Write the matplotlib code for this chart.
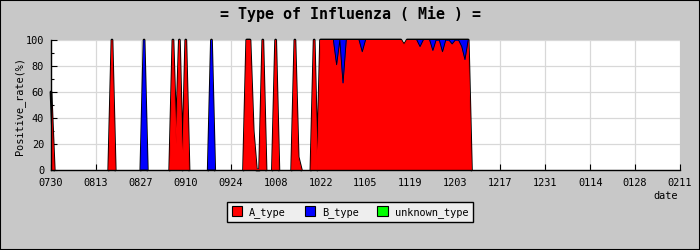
import matplotlib
matplotlib.use('Agg')
import matplotlib.pyplot as plt
import numpy as np
import pandas as pd
from matplotlib.patches import Patch, Rectangle

# ---- data (daily positive rate, %) ----
start_date = '2009-07-30'
end_date = '2010-02-11'

a_type = [
    60, 0, 0, 0, 0, 0, 0, 0, 0, 0, 0, 0, 0, 0,          # 0730-0812
    0, 0, 0, 0, 0, 100, 0, 0, 0, 0, 0, 0, 0, 0,         # 0813-0826
    0, 0, 0, 0, 0, 0, 0, 0, 0, 0, 100, 20, 100, 0,      # 0827-0909
    100, 0, 0, 0, 0, 0, 0, 0, 0, 0, 0, 0, 0, 0,         # 0910-0923
    0, 0, 0, 0, 0, 100, 100, 30, 0, 0, 100, 0, 0, 0,    # 0924-1007
    100, 0, 0, 0, 0, 0, 100, 10, 0, 0, 0, 0, 100, 0,    # 1008-1021
    100, 100, 100, 100, 100, 81, 100, 67, 100, 100, 100, 100, 100, 91,   # 1022-1104
    100, 100, 100, 100, 100, 100, 100, 100, 100, 100, 100, 100, 96, 100, # 1105-1118
    100, 100, 100, 95, 100, 100, 100, 92, 100, 100, 91, 100, 100, 97,    # 1119-1202
    100, 100, 95, 85, 100, 0,                                            # 1203-1208
]
b_type = [
    0, 0, 0, 0, 0, 0, 0, 0, 0, 0, 0, 0, 0, 0,
    0, 0, 0, 0, 0, 0, 0, 0, 0, 0, 0, 0, 0, 0,
    0, 100, 0, 0, 0, 0, 0, 0, 0, 0, 0, 0, 0, 0,
    0, 0, 0, 0, 0, 0, 0, 0, 100, 0, 0, 0, 0, 0,
    0, 0, 0, 0, 0, 0, 0, 0, 0, 0, 0, 0, 0, 0,
    0, 0, 0, 0, 0, 0, 0, 0, 0, 0, 0, 0, 0, 0,
    0, 0, 0, 0, 0, 19, 0, 33, 0, 0, 0, 0, 0, 9,
    0, 0, 0, 0, 0, 0, 0, 0, 0, 0, 0, 0, 0, 0,
    0, 0, 0, 5, 0, 0, 0, 8, 0, 0, 9, 0, 0, 3,
    0, 0, 5, 15, 0, 0,
]
unknown_type = [0] * len(a_type)

series_names = ['A_type', 'B_type', 'unknown_type']
series_colors = ['#ff0000', '#0000ff', '#00ff00']
tick_labels = ['0730', '0813', '0827', '0910', '0924', '1008', '1022', '1105',
               '1119', '1203', '1217', '1231', '0114', '0128', '0211']
y_ticks = [0, 20, 40, 60, 80, 100]

# ---- figure ----
plt.rcParams['font.family'] = ['DejaVu Sans Mono']
fig = plt.figure(figsize=(7, 2.5), dpi=100, facecolor='#c8c8c8')
ax = fig.add_axes([51 / 700, 80 / 250, 629 / 700, 130 / 250])
ax.set_facecolor('white')

dates = pd.date_range(start_date, periods=len(a_type), freq='D')
tick_dates = pd.date_range(start_date, end_date, freq='14D')


def near(mask):
    return np.convolve(mask.astype(int), [1, 1, 1], mode='same') > 0


series = [np.asarray(v, dtype=float) for v in (a_type, b_type, unknown_type)]
total = np.sum(series, axis=0)

# black outline of the whole stack (drawn behind, shows as a border)
ax.plot(dates, np.where(near(total > 0), total, np.nan), color='black',
        linewidth=2.0, zorder=3, clip_on=False, solid_joinstyle='round',
        solid_capstyle='round')

base = np.zeros(len(a_type))
for i, (vals, color) in enumerate(zip(series, series_colors)):
    top = base + vals
    m = near(vals > 0)
    ax.fill_between(dates, base, top, where=m, facecolor=color, edgecolor=color,
                    linewidth=0.7, zorder=4)
    if i > 0:
        ax.plot(dates, np.where(m, base, np.nan), color='black', linewidth=0.6,
                zorder=5)
    base = top

ax.set_xlim(dates[0], pd.Timestamp(end_date))
ax.set_ylim(0, 100)
ax.set_xticks(tick_dates)
ax.set_xticklabels(tick_labels)
ax.set_yticks(y_ticks)
ax.set_yticks(range(10, 100, 20), minor=True)
ax.tick_params(axis='both', which='major', direction='in', length=4, width=0.8,
               color='black', labelsize=7.4, labelcolor='black')
ax.tick_params(axis='x', pad=6)
ax.tick_params(axis='y', pad=5)
ax.tick_params(axis='y', which='minor', direction='in', length=2, width=0.8)
ax.grid(True, which='major', color='#d8d8d8', linewidth=0.9)
ax.set_axisbelow(True)
for s in ['top', 'right']:
    ax.spines[s].set_visible(False)
for s in ['left', 'bottom']:
    ax.spines[s].set_color('black')
    ax.spines[s].set_linewidth(1.0)
    ax.spines[s].set_zorder(6)

fig.text(0.5, 1 - 14 / 250, '= Type of Influenza ( Mie ) =', ha='center', va='center',
         fontsize=10.8, fontweight='bold')
fig.text(20 / 700, 1 - 106 / 250, 'Positive_rate(%)', rotation=90, ha='center',
         va='center', fontsize=7.4)
fig.text(666 / 700, 1 - 196 / 250, 'date', ha='center', va='center', fontsize=7.4)

handles = [Patch(facecolor=c, edgecolor='black', linewidth=0.8) for c in series_colors]
leg = fig.legend(handles, series_names, ncol=3, loc='center',
                 bbox_to_anchor=(0.5, 1 - 212 / 250), frameon=True, fancybox=False,
                 edgecolor='black', facecolor='#eeeeee', framealpha=1, fontsize=7.4,
                 handlelength=1.0, handleheight=1.0, handletextpad=0.7,
                 columnspacing=1.8, borderpad=0.45, borderaxespad=0)
leg.get_frame().set_linewidth(1.0)

fig.patches.append(Rectangle((0, 0), 1, 1, transform=fig.transFigure, fill=False,
                             edgecolor='black', linewidth=1.5))

fig.savefig('out.png', dpi=100, facecolor=fig.get_facecolor())
